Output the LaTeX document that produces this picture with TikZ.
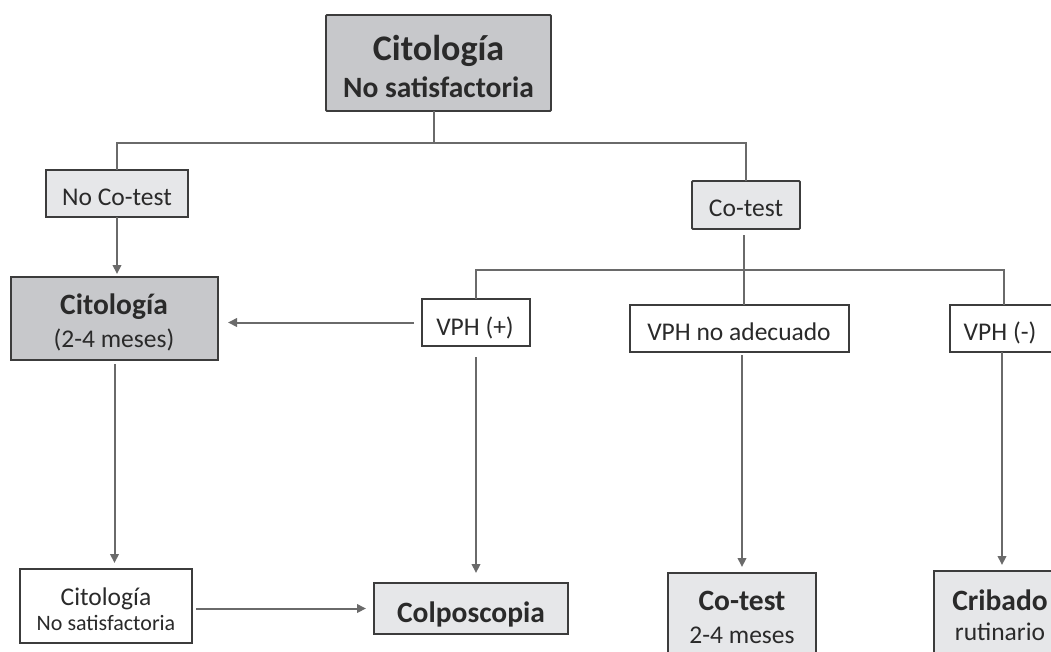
\documentclass[tikz,border=0pt]{standalone}
\usepackage{fontspec}
\setmainfont{Carlito}
\usetikzlibrary{arrows.meta}

\definecolor{boxdark}{HTML}{C7C8CB}
\definecolor{boxlight}{HTML}{E6E7E9}
\definecolor{edge}{HTML}{3C3C3C}
\definecolor{wire}{HTML}{6A6A6A}
\definecolor{ink}{HTML}{2A2A2A}

\newcommand{\fsreg}{\fontsize{25.5}{30}\selectfont}
\newcommand{\fssmall}{\fontsize{22}{26}\selectfont}
\newcommand{\fsbold}{\fontsize{29.5}{34}\selectfont\bfseries}
\newcommand{\fstitle}{\fontsize{36}{40}\selectfont\bfseries}

\tikzset{
  box/.style={draw=edge, line width=1.8pt, rectangle, inner sep=0pt,
              outer sep=0pt, anchor=north west},
  txt/.style={anchor=base, inner sep=0pt, text=ink},
  link/.style={draw=wire, line width=2pt},
  arrowlink/.style={link, -{Triangle[length=9pt,width=8.5pt]}},
}

\begin{document}
\begin{tikzpicture}[x=1pt,y=-1pt]
\useasboundingbox (0,0) rectangle (1051,651);
\clip (0,0) rectangle (1051,651);

% boxes
\node[box, fill=boxdark, rounded corners=1pt, minimum width=225pt, minimum height=96pt] (top) at (326,15) {};
\node[box, fill=boxlight, minimum width=142pt, minimum height=47pt] (nocotest) at (46,170) {};
\node[box, fill=boxdark, minimum width=207pt, minimum height=83pt] (cito2) at (11,277) {};
\node[box, fill=boxlight, rounded corners=1pt, minimum width=108pt, minimum height=48pt] (cotest) at (692,181) {};
\node[box, fill=white, minimum width=108pt, minimum height=47pt] (vphp) at (422,299) {};
\node[box, fill=white, minimum width=219pt, minimum height=47pt] (vphna) at (630,305) {};
\node[box, fill=white, minimum width=110pt, minimum height=47pt] (vphn) at (950,305) {};
\node[box, fill=white, minimum width=172pt, minimum height=74pt] (citons) at (20,569) {};
\node[box, fill=boxlight, minimum width=194pt, minimum height=51pt] (colpo) at (374,583) {};
\node[box, fill=boxlight, minimum width=148pt, minimum height=95pt] (cotest2) at (668,573) {};
\node[box, fill=boxlight, minimum width=132pt, minimum height=95pt] (cribado) at (934,571) {};

% texts
\node[txt, font=\fstitle] (top-a) at (438.5,60) {Citología};
\node[txt, font=\fsbold] (top-b) at (438.5,97) {No satisfactoria};
\node[txt, font=\fsreg] (nocotest-a) at (117,205) {No Co-test};
\node[txt, font=\fsbold] (cito2-a) at (114,314) {Citología};
\node[txt, font=\fsreg] (cito2-b) at (114,347) {(2-4 meses)};
\node[txt, font=\fsreg] (cotest-a) at (746,216) {Co-test};
\node[txt, font=\fsreg] (vphp-a) at (475,335) {VPH (+)};
\node[txt, font=\fsreg] (vphna-a) at (739,340) {VPH no adecuado};
\node[txt, font=\fsreg] (vphn-a) at (1000,340) {VPH (-)};
\node[txt, font=\fsreg] (citons-a) at (106,605) {Citología};
\node[txt, font=\fssmall] (citons-b) at (106,630) {No satisfactoria};
\node[txt, font=\fsbold] (colpo-a) at (471,622) {Colposcopia};
\node[txt, font=\fsbold] (cotest2-a) at (742,610) {Co-test};
\node[txt, font=\fsreg] (cotest2-b) at (742,643) {2-4 meses};
\node[txt, font=\fsbold] (cribado-a) at (1000,610) {Cribado};
\node[txt, font=\fsreg] (cribado-b) at (1000,640) {rutinario};

% junction points of the branching lines
\coordinate (j1) at (434,143);
\coordinate (j2) at (744,270);
\coordinate (rb) at (1004,270);

% first split: no co-test / co-test
\draw[link] (top.south -| j1) -- (j1);
\draw[link] (nocotest.north) |- (cotest.north |- j1) -- (cotest.north);

% no co-test branch
\draw[arrowlink, shorten >=3pt] (nocotest.south) -- (nocotest.south |- cito2.north);
\draw[arrowlink, shorten <=4pt, shorten >=6pt] (cito2.south) -- (cito2.south |- citons.north);
\draw[arrowlink, shorten <=4pt, shorten >=8pt] (citons.east |- colpo.west) -- (colpo.west);

% co-test branch
\draw[link, shorten <=6pt] (j2 |- cotest.south) -- ([yshift=-5pt]j2);
\draw[link] (vphp.north) |- (rb) -- (rb |- vphn.north);
\draw[link] ([yshift=5pt]j2) -- (j2 |- vphna.north);

\draw[arrowlink, shorten <=8pt, shorten >=10pt] (vphp.west) -- (vphp.west -| cito2.east);
\draw[arrowlink, shorten <=11pt, shorten >=10pt] (vphp.south) -- (vphp.south |- colpo.north);
\draw[arrowlink, shorten <=3pt, shorten >=6pt] (cotest2.north |- vphna.south) -- (cotest2.north);
\draw[arrowlink, shorten >=6pt] ([xshift=-2pt]rb |- vphn.south) -- ([xshift=-2pt]rb |- cribado.north);
\end{tikzpicture}
\end{document}
